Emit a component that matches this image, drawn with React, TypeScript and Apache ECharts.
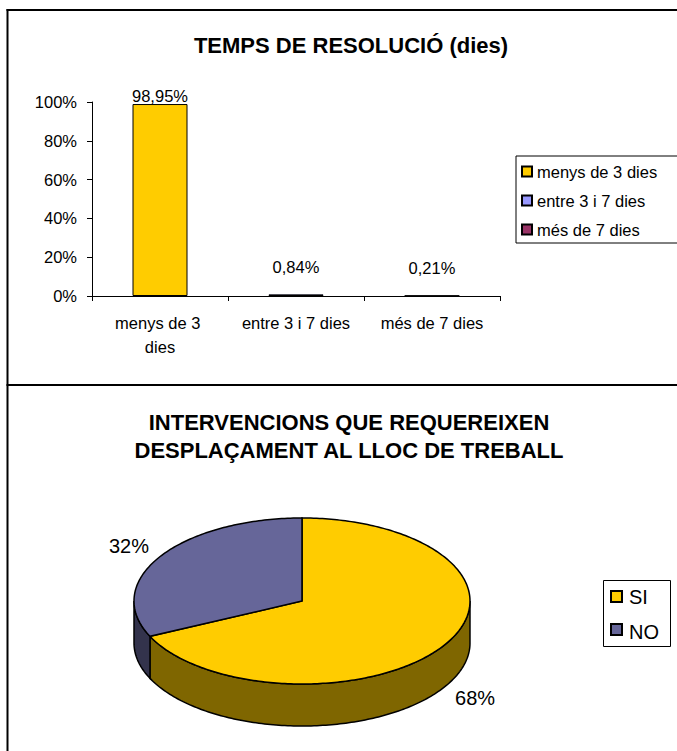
import React, { useEffect, useRef } from 'react';
import * as echarts from 'echarts';

const FONT = "'Liberation Sans', Arial, sans-serif";

// ---- Bar chart data ----
const barTitle = 'TEMPS DE RESOLUCIÓ (dies)';
const barCategories = ['menys de 3 dies', 'entre 3 i 7 dies', 'més de 7 dies'];
const barValues = [98.95, 0.84, 0.21];
const barColors = ['#FFCC00', '#9999FF', '#993366'];
const yMin = 0;
const yMax = 100;
const yInterval = 20;

// ---- Pie chart data ----
const pieTitle = 'INTERVENCIONS QUE REQUEREIXEN\nDESPLAÇAMENT AL LLOC DE TREBALL';
const pieNames = ['SI', 'NO'];
const pieValues = [68, 32];
const pieColors = ['#FFCC00', '#666699'];
const pieSideColors = ['#7F6600', '#33334C'];

const pieTotal = pieValues.reduce((a, b) => a + b, 0);
const PIE = { cx: 302, cy: 601, rx: 168, ry: 83, depth: 42 };

function pt(deg: number, dy = 0): number[] {
  const r = (deg * Math.PI) / 180;
  return [PIE.cx + PIE.rx * Math.sin(r), PIE.cy - PIE.ry * Math.cos(r) + dy];
}
function arc(a0: number, a1: number, dy = 0): number[][] {
  const pts: number[][] = [];
  const n = Math.max(2, Math.ceil(Math.abs(a1 - a0)));
  for (let k = 0; k <= n; k++) pts.push(pt(a0 + ((a1 - a0) * k) / n, dy));
  return pts;
}

const barSeries = barCategories.map((name, i) => ({
  name,
  type: 'bar',
  stack: 'total',
  barWidth: 55,
  data: barValues.map((v, j) => (j === i ? v : '-')),
  itemStyle: { color: barColors[i], borderColor: '#000', borderWidth: 1 },
  label: {
    show: true,
    position: 'top',
    distance: i === 0 ? 0 : 19,
    formatter: (p: any) => Number(p.value).toFixed(2).replace('.', ',') + '%',
    color: '#000',
    fontSize: 16.5,
    fontFamily: FONT,
  },
}));

const pieSeries = {
  name: 'pie3d',
  type: 'custom',
  coordinateSystem: 'none',
  silent: true,
  data: pieValues.map((v, i) => ({ name: pieNames[i], value: v })),
  renderItem: (params: any, api: any) => {
    const i = params.dataIndex;
    const v = api.value(0);
    let start = 0;
    for (let k = 0; k < i; k++) start += (pieValues[k] / pieTotal) * 360;
    const end = start + (v / pieTotal) * 360;
    const children: any[] = [];
    const s0 = Math.max(start, 90);
    const s1 = Math.min(end, 270);
    if (s1 > s0) {
      const top = arc(s0, s1);
      const bot = arc(s1, s0, PIE.depth);
      children.push({
        type: 'polygon',
        shape: { points: top.concat(bot) },
        style: { fill: pieSideColors[i], stroke: '#000', lineWidth: 1.5 },
      });
    }
    children.push({
      type: 'polygon',
      shape: { points: [[PIE.cx, PIE.cy]].concat(arc(start, end)) },
      style: { fill: pieColors[i], stroke: '#000', lineWidth: 1.5 },
    });
    const mid = ((start + end) / 2) * Math.PI / 180;
    const lx = PIE.cx + (PIE.rx + 37) * Math.sin(mid);
    const ly = PIE.cy - (PIE.ry + 20) * Math.cos(mid) + (Math.cos(mid) < 0 ? PIE.depth : 0);
    children.push({
      type: 'text',
      x: lx,
      y: ly,
      style: {
        text: Math.round((v / pieTotal) * 100) + '%',
        fill: '#000',
        fontSize: 20,
        fontFamily: FONT,
        align: 'center',
        verticalAlign: 'middle',
      },
    });
    return { type: 'group', children };
  },
};

const frameGraphics = [
  { type: 'line', shape: { x1: 6.5, y1: 10, x2: 677, y2: 10 }, style: { stroke: '#000', lineWidth: 2 } },
  { type: 'line', shape: { x1: 7.5, y1: 9, x2: 7.5, y2: 751 }, style: { stroke: '#000', lineWidth: 2 } },
  { type: 'line', shape: { x1: 6.5, y1: 385, x2: 677, y2: 385 }, style: { stroke: '#000', lineWidth: 2 } },
];

const pieLegendGraphics = [
  {
    type: 'rect',
    shape: { x: 603.5, y: 580.5, width: 67, height: 66 },
    style: { fill: '#fff', stroke: '#000', lineWidth: 1 },
  },
  ...pieNames.map((n, i) => ({
    type: 'rect',
    shape: { x: 611, y: 591 + i * 33, width: 11, height: 11 },
    style: { fill: pieColors[i], stroke: '#000', lineWidth: 2 },
  })),
  ...pieNames.map((n, i) => ({
    type: 'text',
    x: 629,
    y: 597 + i * 35,
    style: { text: n, fill: '#000', fontSize: 20, fontFamily: FONT, verticalAlign: 'middle', align: 'left' },
  })),
];

const option: any = {
  animation: false,
  backgroundColor: '#fff',
  title: [
    {
      text: barTitle,
      left: 351,
      top: 34,
      padding: 0,
      textAlign: 'center',
      textStyle: { fontSize: 22, fontWeight: 'bold', fontFamily: FONT, color: '#000', lineHeight: 22 },
    },
    {
      text: pieTitle,
      left: 349,
      top: 408,
      padding: 0,
      textAlign: 'center',
      textStyle: { fontSize: 22, fontWeight: 'bold', fontFamily: FONT, color: '#000', lineHeight: 28 },
    },
  ],
  legend: {
    data: barCategories,
    orient: 'vertical',
    left: 516,
    top: 156,
    itemWidth: 10,
    itemHeight: 10,
    itemGap: 12,
    icon: 'rect',
    padding: [7, 28, 5, 5],
    borderColor: '#000',
    borderWidth: 1,
    textStyle: { fontSize: 16.5, fontFamily: FONT, color: '#000', lineHeight: 17 },
  },
  grid: { left: 92, top: 102, width: 408, height: 194, containLabel: false },
  xAxis: {
    type: 'category',
    data: barCategories,
    axisLine: { lineStyle: { color: '#000', width: 1 } },
    axisTick: { show: true, length: 5, lineStyle: { color: '#000' } },
    axisLabel: {
      color: '#000',
      fontSize: 16.5,
      fontFamily: FONT,
      margin: 15,
      lineHeight: 24,
      width: 114,
      overflow: 'break',
      interval: 0,
    },
  },
  yAxis: {
    type: 'value',
    min: yMin,
    max: yMax,
    interval: yInterval,
    axisLine: { show: true, lineStyle: { color: '#000', width: 1 } },
    axisTick: { show: true, length: 5, lineStyle: { color: '#000' } },
    splitLine: { show: false },
    axisLabel: { color: '#000', fontSize: 16.5, fontFamily: FONT, margin: 15, formatter: '{value}%' },
  },
  graphic: [...frameGraphics, ...pieLegendGraphics],
  series: [...barSeries, pieSeries],
};

export default function App() {
  const ref = useRef<HTMLDivElement>(null);
  useEffect(() => {
    const chart = echarts.init(ref.current as HTMLDivElement, undefined, { renderer: 'svg' });
    chart.setOption(option);
    return () => chart.dispose();
  }, []);
  return (
    <div
      ref={ref}
      style={{ position: 'absolute', left: 0, top: 0, width: 677, height: 751, background: '#fff' }}
    />
  );
}
